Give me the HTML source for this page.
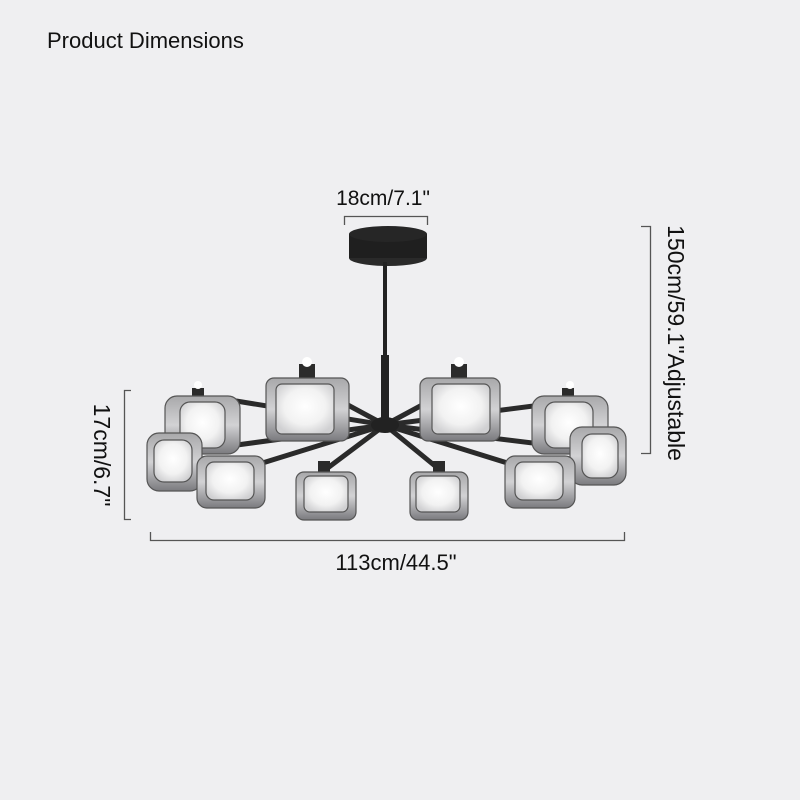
<!DOCTYPE html>
<html><head><style>
html,body{margin:0;padding:0;background:#efeff1;}
svg{display:block;}
text{font-family:"Liberation Sans",Arial,sans-serif;fill:#111;}
</style></head><body>
<svg width="800" height="800" viewBox="0 0 800 800" xmlns="http://www.w3.org/2000/svg">
<defs>
<linearGradient id="g" x1="0" y1="0" x2="0" y2="1">
<stop offset="0" stop-color="#a8a8aa"/><stop offset="0.5" stop-color="#d2d2d4"/><stop offset="1" stop-color="#7a7a7e"/>
</linearGradient>
<radialGradient id="w" cx="0.5" cy="0.45" r="0.6">
<stop offset="0" stop-color="#ffffff"/><stop offset="0.6" stop-color="#f2f2f2"/><stop offset="1" stop-color="#d0d0d2"/>
</radialGradient>
</defs>
<rect width="800" height="800" fill="#efeff1"/>
<text x="47" y="48" font-size="22">Product Dimensions</text>

<g stroke="#555" stroke-width="1.3" fill="none">
<path d="M344.5 225 V216.5 H427.5 V225"/>
<path d="M641 226.5 H650.5 V453.5 H641"/>
<path d="M131 390.5 H124.5 V519.5 H131"/>
<path d="M150.5 532 V540.5 H624.5 V532"/>
</g>
<text x="383" y="205" font-size="21" text-anchor="middle">18cm/7.1"</text>
<text x="396" y="570" font-size="22" text-anchor="middle">113cm/44.5"</text>
<text transform="translate(668,343) rotate(90)" font-size="23" text-anchor="middle">150cm/59.1"Adjustable</text>
<text transform="translate(94,455) rotate(90)" font-size="23" text-anchor="middle">17cm/6.7"</text>

<ellipse cx="388" cy="258" rx="39" ry="8" fill="#2a2a2a"/>
<rect x="349" y="234" width="78" height="24" fill="#1f1f1f"/>
<ellipse cx="388" cy="234" rx="39" ry="8" fill="#262626"/>
<rect x="383" y="262" width="4" height="135" fill="#222"/>
<rect x="381" y="355" width="8" height="70" fill="#222"/>

<g stroke="#2a2a2a" stroke-width="5" stroke-linecap="round">
<line x1="385" y1="425" x2="230" y2="400"/>
<line x1="385" y1="425" x2="580" y2="400"/>
<line x1="385" y1="425" x2="200" y2="450"/>
<line x1="385" y1="425" x2="590" y2="450"/>
<line x1="385" y1="425" x2="320" y2="390"/>
<line x1="385" y1="425" x2="450" y2="390"/>
<line x1="385" y1="425" x2="325" y2="470"/>
<line x1="385" y1="425" x2="440" y2="470"/>
<line x1="385" y1="425" x2="240" y2="470"/>
<line x1="385" y1="425" x2="530" y2="470"/>
</g>
<ellipse cx="385" cy="425" rx="14" ry="8" fill="#222"/>

<g fill="#2b2b2b">
<rect x="299" y="364" width="16" height="16"/><rect x="451" y="364" width="16" height="16"/>
<rect x="192" y="388" width="12" height="10"/><rect x="562" y="388" width="12" height="10"/>
<rect x="318" y="461" width="12" height="14"/><rect x="433" y="461" width="12" height="14"/>
</g>
<g fill="#fff"><circle cx="307" cy="362" r="5"/><circle cx="459" cy="362" r="5"/><circle cx="198" cy="385" r="4"/><circle cx="570" cy="385" r="4"/></g>

<g stroke="#555" stroke-width="1.2">
<rect x="165" y="396" width="75" height="58" rx="12" fill="url(#g)"/>
<rect x="180" y="402" width="45" height="46" rx="10" fill="url(#w)"/>
<rect x="532" y="396" width="76" height="58" rx="12" fill="url(#g)"/>
<rect x="545" y="402" width="48" height="46" rx="10" fill="url(#w)"/>
<rect x="570" y="427" width="56" height="58" rx="12" fill="url(#g)"/>
<rect x="582" y="434" width="36" height="44" rx="10" fill="url(#w)"/>
<rect x="147" y="433" width="55" height="58" rx="12" fill="url(#g)"/>
<rect x="154" y="440" width="38" height="42" rx="10" fill="url(#w)"/>
<rect x="266" y="378" width="83" height="63" rx="8" fill="url(#g)"/>
<rect x="276" y="384" width="58" height="50" rx="6" fill="url(#w)"/>
<rect x="420" y="378" width="80" height="63" rx="8" fill="url(#g)"/>
<rect x="432" y="384" width="58" height="50" rx="6" fill="url(#w)"/>
<rect x="197" y="456" width="68" height="52" rx="10" fill="url(#g)"/>
<rect x="206" y="462" width="48" height="38" rx="8" fill="url(#w)"/>
<rect x="505" y="456" width="70" height="52" rx="10" fill="url(#g)"/>
<rect x="515" y="462" width="48" height="38" rx="8" fill="url(#w)"/>
<rect x="296" y="472" width="60" height="48" rx="8" fill="url(#g)"/>
<rect x="304" y="476" width="44" height="36" rx="6" fill="url(#w)"/>
<rect x="410" y="472" width="58" height="48" rx="8" fill="url(#g)"/>
<rect x="416" y="476" width="44" height="36" rx="6" fill="url(#w)"/>
</g>
</svg>
</body></html>
